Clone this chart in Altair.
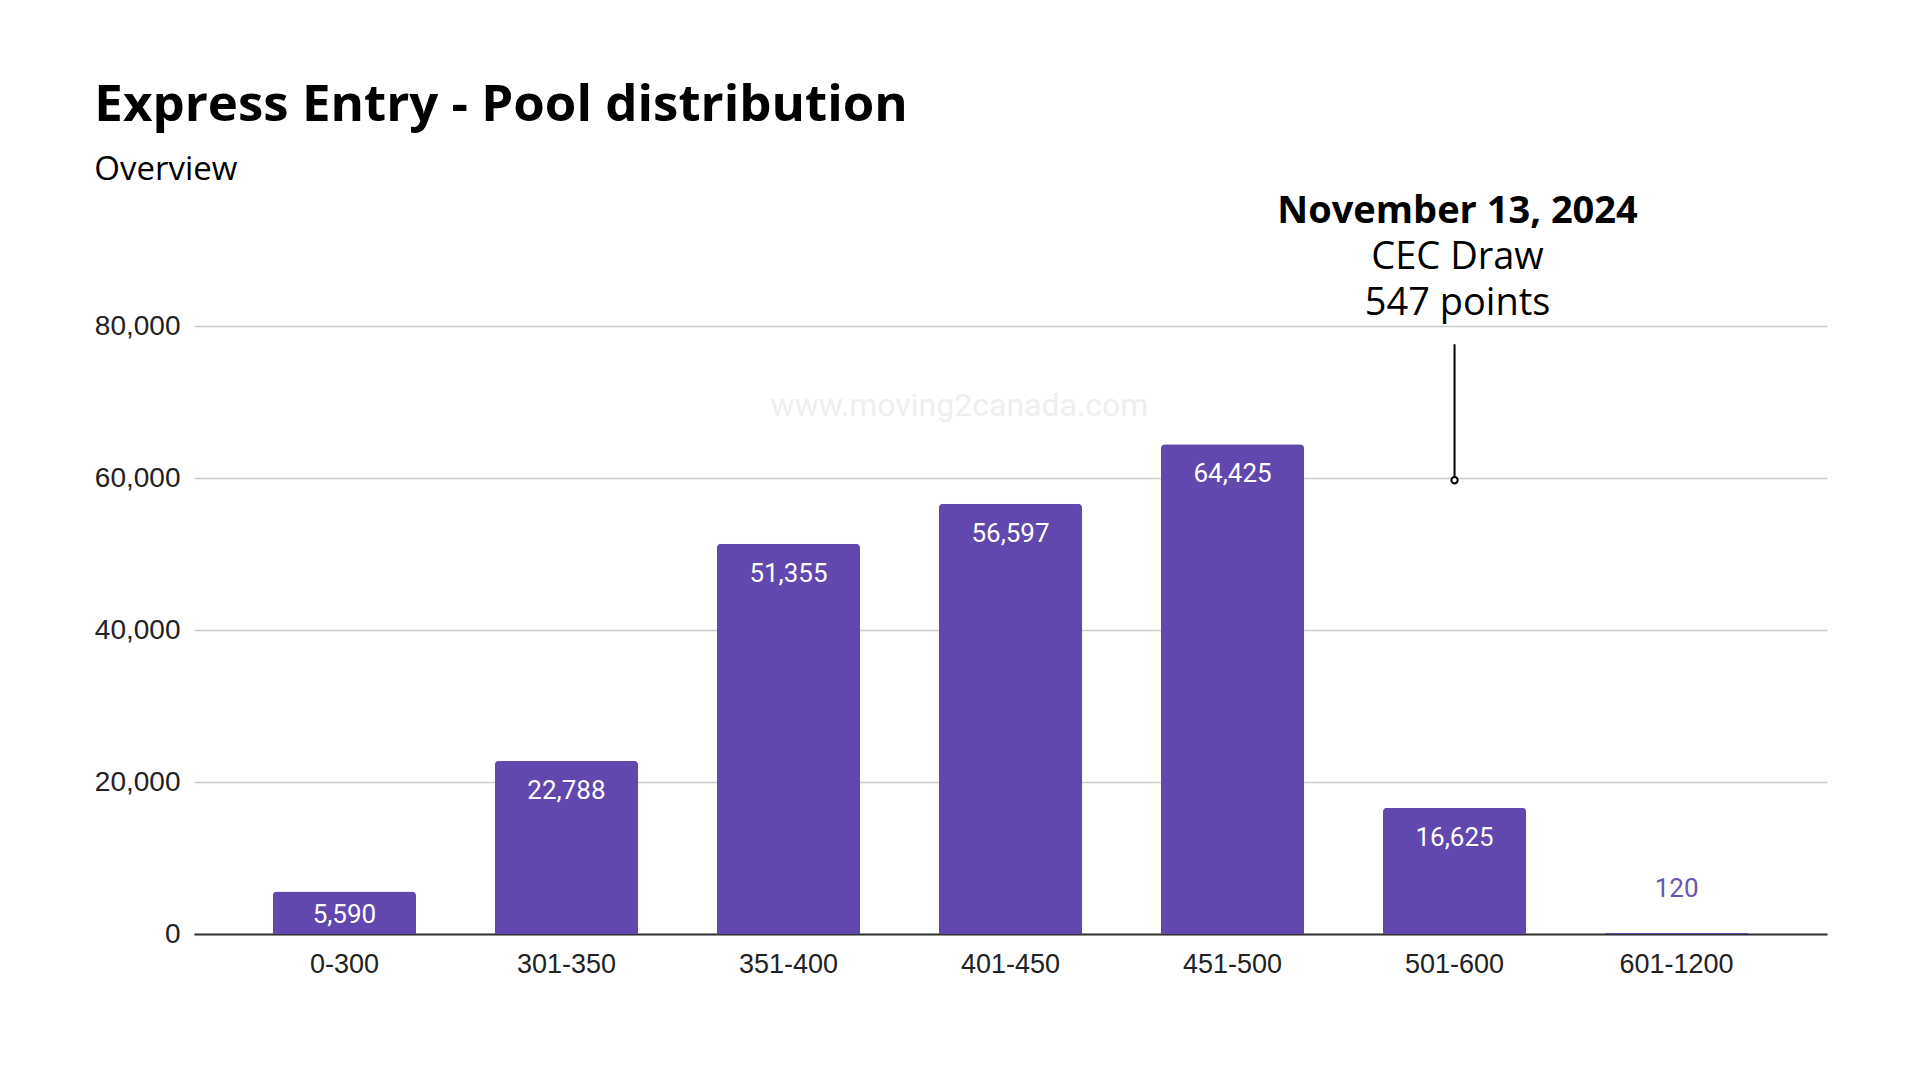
import altair as alt
import pandas as pd

categories = ["0-300", "301-350", "351-400", "401-450", "451-500", "501-600", "601-1200"]
counts = [5590, 22788, 51355, 56597, 64425, 16625, 120]

y_ticks = [0, 20000, 40000, 60000, 80000]

annot_category = "501-600"
annot_lines = ["November 13, 2024", "CEC Draw", "547 points"]
annot_dot_value = 59700
annot_line_top = 77600
watermark = "www.moving2canada.com"
watermark_value = 69500
watermark_category = "401-450"

PURPLE = "#6247ae"

df = pd.DataFrame({"range": categories, "count": counts})
ann = pd.DataFrame({"range": [annot_category], "count": [annot_line_top], "dot": [annot_dot_value]})
wm = pd.DataFrame({"range": [watermark_category], "count": [watermark_value], "t": [watermark]})

xenc = alt.X("range:N", sort=categories, title=None,
             scale=alt.Scale(paddingInner=0.355, paddingOuter=0.355),
             axis=alt.Axis(labelAngle=0, labelAlign="center", labelBaseline="top",
                           labelFont="Liberation Sans", labelFontSize=27,
                           labelColor="#222222", labelPadding=17, ticks=False,
                           domainColor="#333333", domainWidth=2, grid=False))
yenc = alt.Y("count:Q", title=None, scale=alt.Scale(domain=[0, 80000], nice=False),
             axis=alt.Axis(values=y_ticks, labelExpr="format(datum.value, ',')",
                           labelFont="Liberation Sans", labelFontSize=28,
                           labelColor="#222222", labelPadding=14,
                           ticks=False, domain=False, gridColor="#cccccc", gridWidth=1.5))

base = alt.Chart(df)
bars = base.mark_bar(color=PURPLE, cornerRadiusTopLeft=4, cornerRadiusTopRight=4).encode(x=xenc, y=yenc)

lab_big = base.transform_filter("datum.count >= 10000").mark_text(
    font="Roboto", fontSize=26, color="white", baseline="middle", dy=30
).encode(x=xenc, y=yenc, text=alt.Text("count:Q", format=","))
lab_mid = base.transform_filter("datum.count < 10000 && datum.count >= 1000").mark_text(
    font="Roboto", fontSize=26, color="white", baseline="middle", dy=23
).encode(x=xenc, y=yenc, text=alt.Text("count:Q", format=","))
lab_small = base.transform_filter("datum.count < 1000").mark_text(
    font="Roboto", fontSize=26, color="#6a55b3", baseline="middle", dy=-44
).encode(x=xenc, y=yenc, text=alt.Text("count:Q", format=","))

wm_text = alt.Chart(wm).mark_text(
    font="Roboto", fontSize=32, color="#eeeeee", baseline="middle", dx=-51
).encode(x=xenc, y=yenc, text="t:N")

a = alt.Chart(ann)
ann_rule = a.mark_rule(color="black", strokeWidth=2).encode(x=xenc, y=yenc, y2="dot:Q")
ann_dot = a.mark_point(shape="circle", size=40, filled=True, fill="white", stroke="black",
                       strokeWidth=2, opacity=1).encode(x=xenc, y=alt.Y("dot:Q"))
t1 = a.mark_text(font="Open Sans", fontSize=38, fontWeight="bold", color="black",
                 baseline="middle", dy=-132, dx=3).encode(x=xenc, y=yenc, text=alt.value(annot_lines[0]))
t2 = a.mark_text(font="Open Sans", fontSize=38, color="black",
                 baseline="middle", dy=-86, dx=3).encode(x=xenc, y=yenc, text=alt.value(annot_lines[1]))
t3 = a.mark_text(font="Open Sans", fontSize=38, color="black",
                 baseline="middle", dy=-40, dx=3).encode(x=xenc, y=yenc, text=alt.value(annot_lines[2]))

chart = alt.layer(wm_text, bars, lab_big, lab_mid, lab_small, ann_rule, ann_dot, t1, t2, t3).properties(
    width=1633, height=608,
    padding={"left": 86, "top": 72, "right": 60, "bottom": 40},
    title=alt.TitleParams(
        text="Express Entry - Pool distribution", subtitle="Overview",
        anchor="start", frame="bounds", font="Open Sans", fontSize=51, fontWeight="bold",
        color="black", subtitleFont="Open Sans", subtitleFontSize=33, subtitleColor="black",
        subtitlePadding=22, offset=5),
).configure(background="white").configure_view(stroke=None)

chart.save("out.html", embed_options={"renderer": "svg", "actions": False})
